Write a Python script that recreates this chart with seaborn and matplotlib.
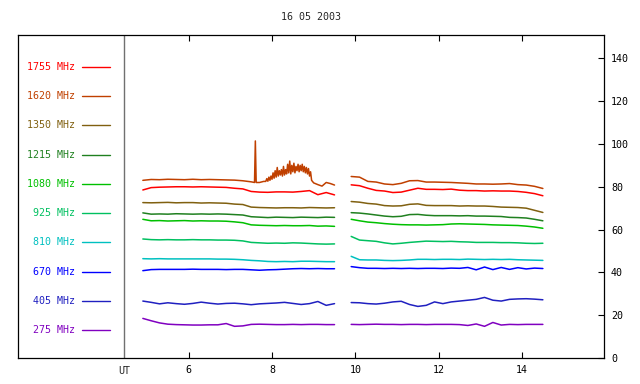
import numpy as np
import pandas as pd
import matplotlib
matplotlib.use("Agg")
import matplotlib.pyplot as plt
import seaborn as sns

# ── Data ─────────────────────────────────────────────────────────────────
TITLE = "16 05 2003"
FREQS = ["1755 MHz", "1620 MHz", "1350 MHz", "1215 MHz", "1080 MHz",
         "925 MHz", "810 MHz", "670 MHz", "405 MHz", "275 MHz"]
COLOURS = ["#ff0000", "#c04000", "#806010", "#208020", "#00c000",
           "#00c060", "#00c0c0", "#0000ff", "#2020c0", "#8000c0"]

# common time grids (UT hours) for the two observing segments
t_seg1 = [4.9, 5.1, 5.3, 5.5, 5.7, 5.9, 6.1, 6.3, 6.5, 6.7, 6.9, 7.1,
          7.3, 7.5, 7.7, 7.9, 8.1, 8.3, 8.5, 8.7, 8.9, 9.1, 9.3, 9.5]
t_seg2 = [9.9, 10.1, 10.3, 10.5, 10.7, 10.9, 11.1, 11.3, 11.5, 11.7, 11.9, 12.1,
          12.3, 12.5, 12.7, 12.9, 13.1, 13.3, 13.5, 13.7, 13.9, 14.1, 14.3, 14.5]

# 1620 MHz has a finer grid in segment 1 (spike + burst)
t_1620_seg1 = [4.9, 5.1, 5.3, 5.5, 5.7, 5.9, 6.1, 6.3, 6.5, 6.7, 6.9, 7.1,
               7.3, 7.5, 7.58, 7.6, 7.62, 7.7, 7.8,
               7.85, 7.875, 7.9, 7.925, 7.95, 7.975, 8.0, 8.025, 8.05, 8.075,
               8.1, 8.125, 8.15, 8.175, 8.2, 8.225, 8.25, 8.275, 8.3, 8.325,
               8.35, 8.375, 8.4, 8.425, 8.45, 8.475, 8.5, 8.525, 8.55, 8.575,
               8.6, 8.625, 8.65, 8.675, 8.7, 8.725, 8.75, 8.775, 8.8, 8.825,
               8.85, 8.875, 8.9, 8.925, 8.95,
               9.0, 9.1, 9.2, 9.3, 9.4, 9.5]
v_1620_seg1 = [83.0, 83.4, 83.3, 83.5, 83.4, 83.3, 83.5, 83.3, 83.4, 83.3, 83.2, 83.1,
               82.8, 82.3, 82.0, 101.4, 82.0, 82.0, 82.5,
               82.5, 83.8, 82.6, 84.5, 83.0, 85.0, 83.5, 86.5, 84.0, 87.5,
               84.5, 89.0, 85.0, 87.5, 85.5, 88.0, 85.0, 89.5, 85.5, 88.0,
               86.0, 90.5, 86.5, 92.0, 86.0, 90.0, 87.0, 91.0, 86.5, 89.5,
               87.5, 90.5, 87.0, 90.0, 87.5, 90.5, 87.0, 89.5, 86.5, 89.0,
               86.0, 88.5, 85.0, 87.0, 83.0,
               81.8, 81.0, 80.3, 82.0, 81.5, 80.8]
v_1620_seg2 = [84.8, 84.5, 82.5, 82.2, 81.3, 81.0, 81.6, 82.8, 82.9, 82.2, 82.2, 82.1,
               82.0, 81.8, 81.6, 81.3, 81.3, 81.2, 81.3, 81.5, 81.0, 80.8, 80.2, 79.2]

v_1755_seg1 = [78.5, 79.6, 79.8, 79.9, 80.0, 80.0, 79.9, 80.0, 79.9, 79.8, 79.7, 79.3,
               79.0, 77.8, 77.5, 77.4, 77.6, 77.6, 77.5, 77.8, 78.2, 76.3, 77.3, 76.2]
v_1755_seg2 = [80.9, 80.5, 79.3, 78.3, 78.0, 77.3, 77.5, 78.4, 79.3, 78.8, 78.8, 78.7,
               78.9, 78.4, 78.2, 78.2, 78.0, 78.1, 78.0, 78.0, 77.8, 77.4, 76.8, 75.8]

v_1350_seg1 = [72.6, 72.5, 72.6, 72.7, 72.5, 72.6, 72.6, 72.4, 72.5, 72.4, 72.3, 71.9,
               71.7, 70.5, 70.3, 70.2, 70.1, 70.2, 70.2, 70.1, 70.3, 70.2, 70.1, 70.2]
v_1350_seg2 = [73.1, 72.8, 72.2, 71.9, 71.2, 71.0, 71.1, 71.8, 72.0, 71.3, 71.2, 71.2,
               71.2, 71.0, 71.1, 71.0, 71.0, 70.8, 70.5, 70.4, 70.3, 70.0, 69.0, 68.0]

v_1215_seg1 = [67.8, 67.2, 67.3, 67.2, 67.4, 67.3, 67.2, 67.3, 67.2, 67.3, 67.2, 67.0,
               66.8, 66.0, 65.8, 65.6, 65.8, 65.7, 65.6, 65.8, 65.7, 65.6, 65.8, 65.7]
v_1215_seg2 = [67.9, 67.7, 67.3, 66.8, 66.3, 66.0, 66.2, 67.0, 67.1, 66.7, 66.5, 66.5,
               66.5, 66.4, 66.5, 66.3, 66.3, 66.2, 66.1, 65.7, 65.6, 65.4, 64.8, 64.1]

v_1080_seg1 = [64.8, 64.1, 64.2, 64.0, 64.1, 64.2, 64.0, 64.1, 64.0, 64.0, 63.9, 63.6,
               63.2, 62.2, 62.0, 61.9, 61.8, 61.9, 61.8, 61.8, 61.9, 61.6, 61.7, 61.5]
v_1080_seg2 = [64.8, 64.1, 63.5, 63.2, 62.8, 62.5, 62.3, 62.2, 62.2, 62.1, 62.2, 62.3,
               62.6, 62.7, 62.6, 62.5, 62.4, 62.2, 62.1, 62.0, 61.9, 61.6, 61.2, 60.6]

v_925_seg1 = [55.6, 55.3, 55.2, 55.3, 55.2, 55.2, 55.3, 55.2, 55.2, 55.1, 55.1, 55.0,
              54.7, 54.0, 53.8, 53.6, 53.7, 53.6, 53.8, 53.7, 53.5, 53.3, 53.2, 53.3]
v_925_seg2 = [56.8, 55.1, 54.8, 54.5, 53.8, 53.3, 53.6, 54.0, 54.3, 54.6, 54.5, 54.4,
              54.5, 54.3, 54.2, 54.0, 54.0, 54.0, 53.9, 53.9, 53.8, 53.6, 53.5, 53.6]

v_810_seg1 = [46.4, 46.3, 46.4, 46.3, 46.3, 46.3, 46.3, 46.3, 46.3, 46.2, 46.2, 46.1,
              45.9, 45.6, 45.4, 45.1, 45.0, 45.1, 45.0, 45.2, 45.2, 45.1, 45.0, 45.0]
v_810_seg2 = [47.5, 45.9, 45.8, 45.8, 45.6, 45.5, 45.6, 45.8, 46.1, 46.1, 46.0, 46.1,
              46.1, 46.0, 46.2, 46.1, 46.0, 46.1, 46.0, 46.1, 45.9, 45.8, 45.7, 45.6]

v_670_seg1 = [40.8, 41.3, 41.4, 41.4, 41.4, 41.4, 41.5, 41.4, 41.4, 41.4, 41.3, 41.4,
              41.4, 41.2, 41.0, 41.2, 41.3, 41.5, 41.7, 41.8, 41.7, 41.8, 41.7, 41.7]
v_670_seg2 = [42.7, 42.2, 41.9, 41.9, 41.8, 41.9, 41.8, 41.9, 41.8, 41.9, 41.9, 41.8,
              42.0, 41.9, 42.3, 41.2, 42.5, 41.3, 42.3, 41.4, 42.2, 41.6, 42.0, 41.8]

v_405_seg1 = [26.6, 26.0, 25.3, 25.8, 25.4, 25.1, 25.5, 26.1, 25.6, 25.2, 25.5, 25.6,
              25.3, 24.9, 25.3, 25.5, 25.7, 26.0, 25.5, 25.0, 25.4, 26.4, 24.6, 25.4]
v_405_seg2 = [25.9, 25.8, 25.4, 25.2, 25.6, 26.2, 26.5, 25.0, 24.1, 24.6, 26.2, 25.4,
              26.2, 26.6, 27.0, 27.4, 28.3, 27.0, 26.6, 27.4, 27.6, 27.7, 27.5, 27.2]

v_275_seg1 = [18.5, 17.4, 16.4, 15.8, 15.6, 15.5, 15.4, 15.4, 15.5, 15.5, 16.1, 14.8,
              15.0, 15.7, 15.8, 15.7, 15.6, 15.6, 15.7, 15.6, 15.7, 15.7, 15.6, 15.6]
v_275_seg2 = [15.7, 15.6, 15.7, 15.8, 15.7, 15.7, 15.6, 15.7, 15.7, 15.6, 15.7, 15.7,
              15.7, 15.6, 15.2, 15.9, 14.8, 16.6, 15.4, 15.7, 15.6, 15.7, 15.7, 15.7]

# ── Long table for seaborn ───────────────────────────────────────────────
series = {
    "1755 MHz": [(t_seg1, v_1755_seg1), (t_seg2, v_1755_seg2)],
    "1620 MHz": [(t_1620_seg1, v_1620_seg1), (t_seg2, v_1620_seg2)],
    "1350 MHz": [(t_seg1, v_1350_seg1), (t_seg2, v_1350_seg2)],
    "1215 MHz": [(t_seg1, v_1215_seg1), (t_seg2, v_1215_seg2)],
    "1080 MHz": [(t_seg1, v_1080_seg1), (t_seg2, v_1080_seg2)],
    "925 MHz":  [(t_seg1, v_925_seg1), (t_seg2, v_925_seg2)],
    "810 MHz":  [(t_seg1, v_810_seg1), (t_seg2, v_810_seg2)],
    "670 MHz":  [(t_seg1, v_670_seg1), (t_seg2, v_670_seg2)],
    "405 MHz":  [(t_seg1, v_405_seg1), (t_seg2, v_405_seg2)],
    "275 MHz":  [(t_seg1, v_275_seg1), (t_seg2, v_275_seg2)],
}
rows = []
for f, segs in series.items():
    for k, (tt, vv) in enumerate(segs):
        for t, v in zip(tt, vv):
            rows.append({"ut": t, "flux": v, "freq": f, "seg": k})
df = pd.DataFrame(rows)

# ── Plot ─────────────────────────────────────────────────────────────────
sns.set_style("white")
plt.rcParams["font.family"] = ["DejaVu Sans Mono", "DejaVu Sans"]
FS = 7.2

fig = plt.figure(figsize=(6.4, 3.84), dpi=100)
ax = fig.add_axes([18 / 640, 26 / 384, 586 / 640, 323 / 384])

sns.lineplot(data=df, x="ut", y="flux", hue="freq", units="seg",
             estimator=None, palette=dict(zip(FREQS, COLOURS)),
             hue_order=FREQS, linewidth=1.1, legend=False, ax=ax)

ax.set_xlim(1.904, 15.967)
ax.set_ylim(0, 150.9)
ax.set_xlabel("")
ax.set_ylabel("")

# divider between legend panel and data panel
ax.axvline(4.447, color="#707070", linewidth=1)

ax.set_xticks([6, 8, 10, 12, 14])
ax.set_xticklabels(["6", "8", "10", "12", "14"], fontsize=FS)
ax.tick_params(axis="x", direction="in", length=4, width=0.8,
               top=True, bottom=True, pad=5, colors="black")
ax.yaxis.tick_right()
ax.set_yticks([0, 20, 40, 60, 80, 100, 120, 140])
ax.set_yticklabels(["0", "20", "40", "60", "80", "100", "120", "140"], fontsize=FS)
ax.tick_params(axis="y", direction="in", length=4, width=0.8,
               right=True, left=False, pad=5, colors="black")
for s in ax.spines.values():
    s.set_color("black")
    s.set_linewidth(0.9)

# legend panel
for i, (f, c) in enumerate(zip(FREQS, COLOURS)):
    y = 0.901 - i * 0.0905
    ax.text(0.0973, y, f, color=c, fontsize=FS, ha="right", va="center",
            transform=ax.transAxes)
    ax.plot([0.109, 0.157], [y, y], color=c, linewidth=1,
            transform=ax.transAxes)

ax.text(4.447, -0.04, "UT", fontsize=FS, ha="center", va="center",
        transform=ax.get_xaxis_transform())
fig.text(311 / 640, 1 - 17 / 384, TITLE, fontsize=FS, ha="center", va="center")

fig.savefig("out.png", dpi=100)
